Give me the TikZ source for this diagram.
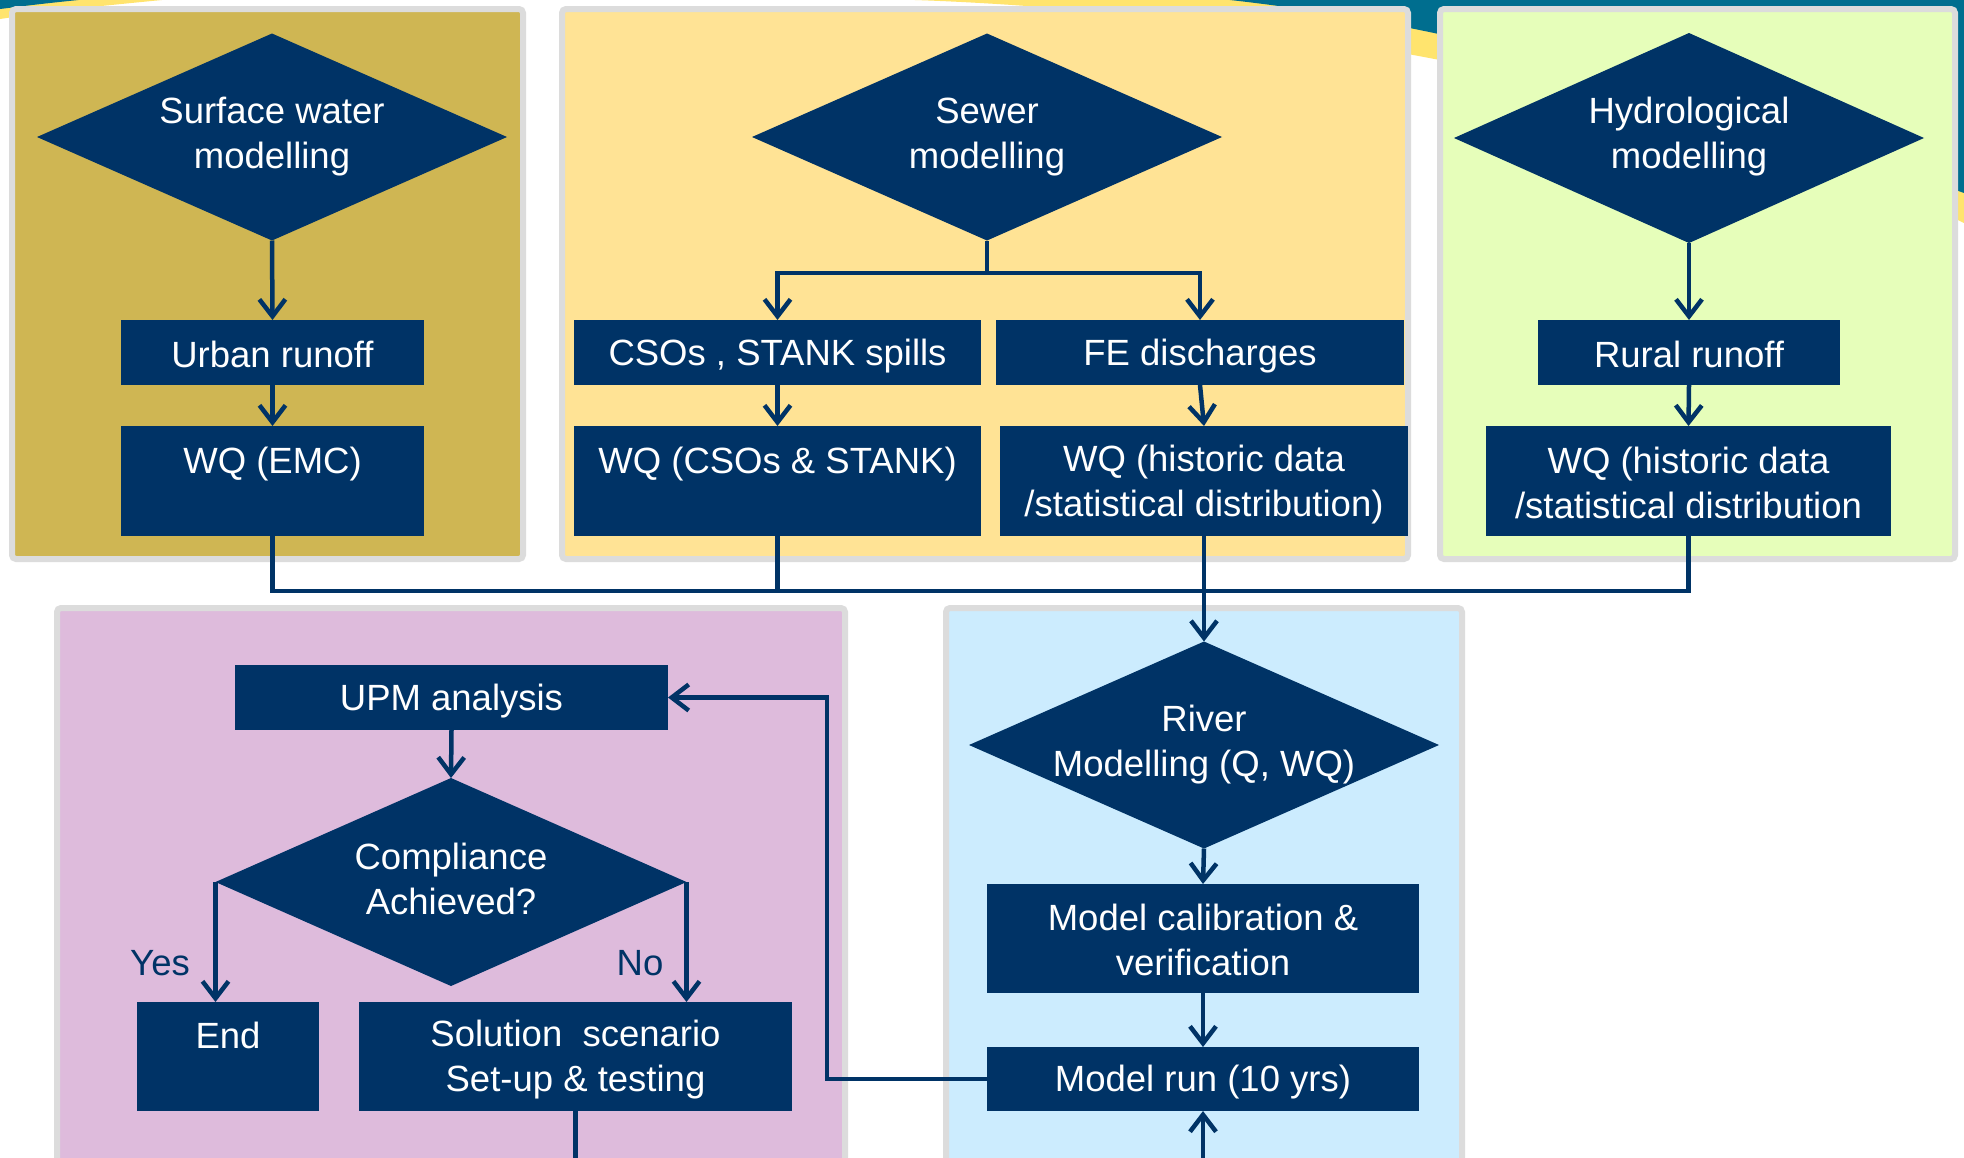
\documentclass[tikz,border=0pt]{standalone}
\usepackage{fontspec}
\setmainfont{Liberation Sans}
\usetikzlibrary{arrows.meta,shapes.geometric}
\definecolor{navy}{HTML}{003366}
\definecolor{gold}{HTML}{CFB653}
\definecolor{ltyellow}{HTML}{FFE395}
\definecolor{ltgreen}{HTML}{E6FEBA}
\definecolor{pinkish}{HTML}{DEBBDC}
\definecolor{ltblue}{HTML}{CCECFE}
\definecolor{bordergray}{HTML}{DCDCDC}
\definecolor{teal}{HTML}{006E8F}
\definecolor{swoosh}{HTML}{FFE46E}
\newcommand{\dfont}{\fontsize{36.5}{45}\selectfont}
\newcommand{\st}{\rule[-4pt]{0pt}{37pt}}
\begin{document}
\begin{tikzpicture}[x=1pt,y=-1pt,
  box/.style={fill=navy,text=white,inner sep=0pt,outer sep=0pt,align=center,font=\dfont},
  dia/.style={diamond,fill=navy,inner sep=0pt,outer sep=0pt,minimum width=470pt,minimum height=207pt},
  dtext/.style={text=white,align=center,font=\dfont,inner sep=0pt},
  lbl/.style={text=navy,font=\dfont,inner sep=0pt},
  conn/.style={draw=navy,line width=4.5pt},
  arr/.style={conn,-{Straight Barb[length=17pt,width=26pt]}},
  panel/.style={draw=bordergray,line width=6pt,rounded corners=4pt}]
\useasboundingbox (0,0) rectangle (1964,1157);
\fill[white] (0,0) rectangle (1964,1157);
% background swoosh
\fill[swoosh] (0,0) -- (0,19) .. controls (60,10) .. (172,-1) -- cycle;
\fill[teal] (0,0) -- (0,9) .. controls (40,4) .. (88,-1) -- cycle;
\fill[swoosh] (900,-2) -- (915,0) .. controls (1200,10) and (1650,70) .. (1964,223) -- (1964,-2) -- cycle;
\fill[teal] (1200,-2) -- (1230,0) .. controls (1500,30) and (1750,115) .. (1964,193) -- (1964,-2) -- cycle;
% panels
\draw[panel,fill=gold] (12,9) rectangle (523,559);
\draw[panel,fill=ltyellow] (562,9) rectangle (1408,559);
\draw[panel,fill=ltgreen] (1440,9) rectangle (1955,559);
\draw[panel,fill=pinkish] (57,608) rectangle (845,1175);
\draw[panel,fill=ltblue] (946,608) rectangle (1462,1175);
% diamonds
\node[dia] (d1) at (272,137) {};
\node[dia] (d2) at (987,137) {};
\node[dia,minimum height=210pt] (d3) at (1689,138) {};
\node[dia] (river) at (1204,745) {};
\node[dia,minimum width=471pt,minimum height=208pt] (comp) at (451,882) {};
\node[dtext] (t1) at (272,133) {\st Surface water\\\st modelling};
\node[dtext] (t2) at (987,133) {\st Sewer\\\st modelling};
\node[dtext] (t3) at (1689,133) {\st Hydrological\\\st modelling};
\node[dtext] (t4) at (1204,741) {\st River\\\st Modelling (Q, WQ)};
\node[dtext] (t5) at (451,877) {\st Compliance\\\st Achieved?};
% boxes
\node[box,minimum width=303pt,minimum height=65pt] (urban) at (272.5,352.5) {\st Urban runoff};
\node[box,minimum width=303pt,minimum height=110pt] (wqemc) at (272.5,481) {\st WQ (EMC)\\\st};
\node[box,minimum width=407pt,minimum height=65pt] (cso) at (777.5,352.5) {\st CSOs , STANK spills};
\node[box,minimum width=408pt,minimum height=65pt] (fe) at (1200,352.5) {\st FE discharges};
\node[box,minimum width=407pt,minimum height=110pt] (wqcso) at (777.5,481) {\st WQ (CSOs \& STANK)\\\st};
\node[box,minimum width=408pt,minimum height=110pt] (wqh1) at (1204,481) {\st WQ (historic data\\\st /statistical distribution)};
\node[box,minimum width=302pt,minimum height=65pt] (rural) at (1689,352.5) {\st Rural runoff};
\node[box,minimum width=405pt,minimum height=110pt] (wqh2) at (1688.5,481) {\st WQ (historic data\\\st /statistical distribution};
\node[box,minimum width=433pt,minimum height=65pt] (upm) at (451.5,697.5) {\st UPM analysis};
\node[box,minimum width=432pt,minimum height=109pt] (calib) at (1203,938.5) {\st Model calibration \&\\\st verification};
\node[box,minimum width=432pt,minimum height=64pt] (run) at (1203,1079) {\st Model run (10 yrs)};
\node[box,minimum width=182pt,minimum height=109pt] (endbox) at (228,1056.5) {\st End\\\st};
\node[box,minimum width=433pt,minimum height=109pt] (sol) at (575.5,1056.5) {\st Solution\ \ scenario\\\st Set-up \& testing};
\node[lbl] (yes) at (160,961) {\st Yes};
\node[lbl] (no) at (640,961) {\st No};
% connectors top
\draw[arr] (d1.south) -- (urban.north);
\draw[arr] (urban.south) -- (wqemc.north);
\coordinate (j) at (987,273);
\draw[conn] (d2.south) -- (j);
\draw[arr] (j) -| (cso.north);
\draw[arr] (j) -| (fe.north);
\draw[arr] (cso.south) -- (wqcso.north);
\draw[arr] (fe.south) -- (wqh1.north);
\draw[arr] (d3.south) -- (rural.north);
\draw[arr] (rural.south) -- (wqh2.north);
\coordinate (busL) at (272.5,591);
\coordinate (busR) at (1688.5,591);
\draw[conn] (wqemc.south) -- (busL) -- (busR) -- (wqh2.south);
\draw[conn] (wqcso.south) -- (wqcso.south |- busL);
\draw[arr] (wqh1.south) -- (river.north);
% connectors bottom
\draw[arr] (river.south) -- (calib.north);
\draw[arr] (calib.south) -- (run.north);
\coordinate (bin) at (1203,1165);
\draw[arr] (bin) -- (run.south);
\coordinate (fb) at (827,1079);
\draw[arr] (run.west) -- (fb) |- (upm.east);
\draw[arr] (upm.south) -- (comp.north);
\draw[arr] (comp.west) -- (comp.west |- endbox.north);
\draw[arr] (comp.east) -- (comp.east |- sol.north);
\coordinate (sout) at (575.5,1165);
\draw[conn] (sol.south) -- (sout);
\end{tikzpicture}
\end{document}
